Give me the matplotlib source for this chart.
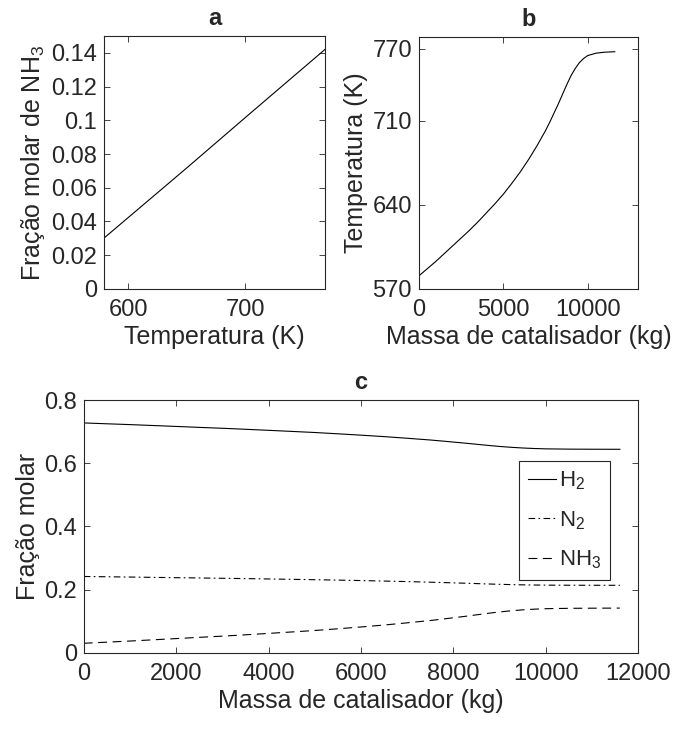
import matplotlib
matplotlib.use('Agg')
import matplotlib.pyplot as plt

# panel a: NH3 mole fraction vs temperature
temp_a = [579.5, 650, 700, 768.4]
nh3_a = [0.0303, 0.0717, 0.1015, 0.1420]

# panel b / c: profiles along catalyst mass
massa = [0, 500, 1000, 1500, 2000, 2500, 3000, 3500, 4000, 4500, 5000, 5500,
         6000, 6500, 7000, 7500, 7750, 8000, 8250, 8500, 8750, 9000, 9250,
         9500, 9750, 10000, 10500, 11000, 11600]
temp_b = [581, 587, 593, 599.5, 606, 612.5, 619, 626, 633.5, 641, 649, 658,
          667.5, 678, 689.5, 702, 709, 716.5, 724, 732, 740, 747.5, 753.5,
          758.5, 762, 764.5, 766.5, 767.3, 767.7]
h2 = [0.7275, 0.7248, 0.7222, 0.7193, 0.7164, 0.7134, 0.7106, 0.7074, 0.7041,
      0.7007, 0.6972, 0.6931, 0.6888, 0.6842, 0.6790, 0.6735, 0.6703, 0.6669,
      0.6636, 0.6600, 0.6564, 0.6531, 0.6504, 0.6482, 0.6466, 0.6455, 0.6446,
      0.6443, 0.6441]
n2 = [0.2419, 0.2410, 0.2401, 0.2391, 0.2381, 0.2372, 0.2362, 0.2352, 0.2340,
      0.2329, 0.2317, 0.2304, 0.2290, 0.2274, 0.2257, 0.2238, 0.2228, 0.2217,
      0.2206, 0.2194, 0.2182, 0.2171, 0.2162, 0.2154, 0.2149, 0.2145, 0.2142,
      0.2141, 0.2140]
nh3 = [0.0306, 0.0342, 0.0377, 0.0416, 0.0455, 0.0494, 0.0532, 0.0574, 0.0619,
       0.0664, 0.0711, 0.0765, 0.0822, 0.0884, 0.0953, 0.1027, 0.1069, 0.1114,
       0.1158, 0.1206, 0.1254, 0.1298, 0.1334, 0.1364, 0.1385, 0.1400, 0.1412,
       0.1416, 0.1419]

txt = '#262626'
plt.rcParams['font.family'] = ['Liberation Sans', 'DejaVu Sans']
plt.rcParams['mathtext.fontset'] = 'custom'
plt.rcParams['mathtext.rm'] = 'Liberation Sans'
plt.rcParams['mathtext.it'] = 'Liberation Sans:italic'
plt.rcParams['mathtext.bf'] = 'Liberation Sans:bold'
plt.rcParams['text.color'] = txt
plt.rcParams['axes.labelcolor'] = txt
plt.rcParams['xtick.color'] = txt
plt.rcParams['ytick.color'] = txt
plt.rcParams['axes.edgecolor'] = txt
plt.rcParams['axes.linewidth'] = 0.8

fig = plt.figure(figsize=(6.78, 7.29), dpi=100)
ax_a = fig.add_axes([0.1538, 0.6036, 0.3255, 0.3471])
ax_b = fig.add_axes([0.618, 0.6036, 0.3235, 0.3457])
ax_c = fig.add_axes([0.1235, 0.1043, 0.818, 0.347])


def style(ax):
    ax.tick_params(direction='in', top=True, right=True, length=4, width=0.6,
                   labelsize=17)
    ax.tick_params(axis='x', pad=7)
    ax.tick_params(axis='y', pad=5)


ax_a.plot(temp_a, nh3_a, color='black', lw=0.8)
ax_a.set_xlim(579.5, 768.4)
ax_a.set_ylim(0, 0.15)
ax_a.set_xticks([600, 700])
ax_a.set_yticks([0, 0.02, 0.04, 0.06, 0.08, 0.1, 0.12, 0.14])
ax_a.set_yticklabels(['0', '0.02', '0.04', '0.06', '0.08', '0.1', '0.12', '0.14'])
ax_a.set_xlabel('Temperatura (K)', fontsize=18, labelpad=3)
ax_a.set_ylabel('Fração molar de NH$_3$', fontsize=18, labelpad=3)
ax_a.set_title('a', fontsize=17, fontweight='bold', pad=8)
style(ax_a)

ax_b.plot(massa, temp_b, color='black', lw=0.8)
ax_b.set_xlim(0, 13000)
ax_b.set_ylim(570, 780)
ax_b.set_xticks([0, 5000, 10000])
ax_b.set_yticks([570, 640, 710, 770])
ax_b.set_xlabel('Massa de catalisador (kg)', fontsize=18, labelpad=3)
ax_b.set_ylabel('Temperatura (K)', fontsize=18, labelpad=3)
ax_b.set_title('b', fontsize=17, fontweight='bold', pad=8)
style(ax_b)

ax_c.plot(massa, h2, color='black', lw=0.8, ls='-', label='H$_2$')
ax_c.plot(massa, n2, color='black', lw=0.8, ls=(0, (6, 3, 1.5, 3)), label='N$_2$')
ax_c.plot(massa, nh3, color='black', lw=0.8, ls=(0, (8, 5)), label='NH$_3$')
ax_c.set_xlim(0, 12000)
ax_c.set_ylim(0, 0.8)
ax_c.set_xticks([0, 2000, 4000, 6000, 8000, 10000, 12000])
ax_c.set_yticks([0, 0.2, 0.4, 0.6, 0.8])
ax_c.set_yticklabels(['0', '0.2', '0.4', '0.6', '0.8'])
ax_c.set_xlabel('Massa de catalisador (kg)', fontsize=18, labelpad=3)
ax_c.set_ylabel('Fração molar', fontsize=18, labelpad=3)
ax_c.set_title('c', fontsize=17, fontweight='bold', pad=8)
style(ax_c)
leg = ax_c.legend(loc='upper right', bbox_to_anchor=(0.949, 0.759), fontsize=16,
                  handlelength=1.25, handletextpad=0.15, labelspacing=0.75,
                  borderpad=0.4, borderaxespad=0, fancybox=False, framealpha=1)
leg.get_frame().set_edgecolor(txt)
leg.get_frame().set_linewidth(0.8)

fig.savefig('out.png', dpi=100)
